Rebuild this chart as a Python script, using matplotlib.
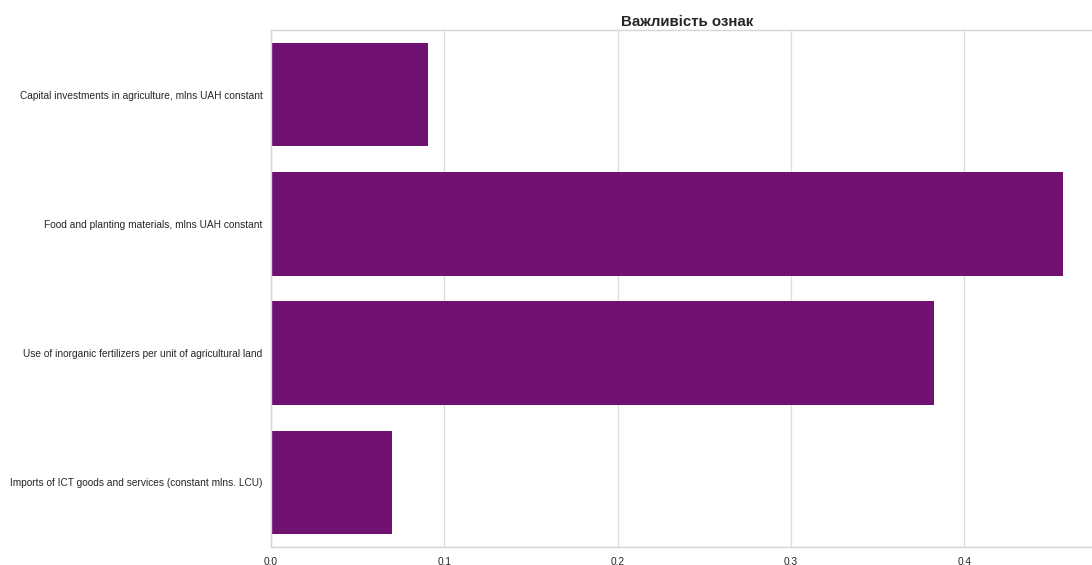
import matplotlib
matplotlib.use("Agg")
import matplotlib.pyplot as plt

features = [
    "Capital investments in agriculture, mlns UAH constant",
    "Food and planting materials, mlns UAH constant",
    "Use of inorganic fertilizers per unit of agricultural land",
    "Imports of ICT goods and services (constant mlns. LCU)",
]
importances = [0.0906, 0.457, 0.3826, 0.0698]
xticks = [0.0, 0.1, 0.2, 0.3, 0.4]
title = "Важливість ознак"

plt.rcParams['font.family'] = ['Liberation Sans', 'DejaVu Sans']

fig = plt.figure(figsize=(10.92, 5.65), dpi=100)
fig.patch.set_facecolor('white')
# axes extends slightly beyond the right edge of the figure (cropped, as in the reference)
ax = fig.add_axes([271/1092, 1-547/565, 832/1092, (547-30)/565])

pos = list(range(len(features)))
ax.barh(pos, importances, height=0.8, color='#701070', zorder=2)
ax.set_ylim(len(features)-0.5, -0.5)
ax.set_xlim(0, 832/1733)
ax.set_yticks(pos)
ax.set_yticklabels(features, fontsize=7.3, color='#262626')
ax.set_xticks(xticks)
ax.set_xticklabels([f"{v:.1f}" for v in xticks], fontsize=7.3, color='#262626')
ax.tick_params(axis='y', length=0, pad=6)
ax.tick_params(axis='x', length=0, pad=7)
ax.grid(axis='x', color='#dddddd', linewidth=0.9, zorder=0)
ax.grid(axis='y', visible=False)
for s in ax.spines.values():
    s.set_color('#d6d6d6')
    s.set_linewidth(1.0)
ax.set_title(title, fontsize=10.8, fontweight='bold', color='#262626', pad=3)

fig.savefig("out.png", dpi=100, facecolor='white')
